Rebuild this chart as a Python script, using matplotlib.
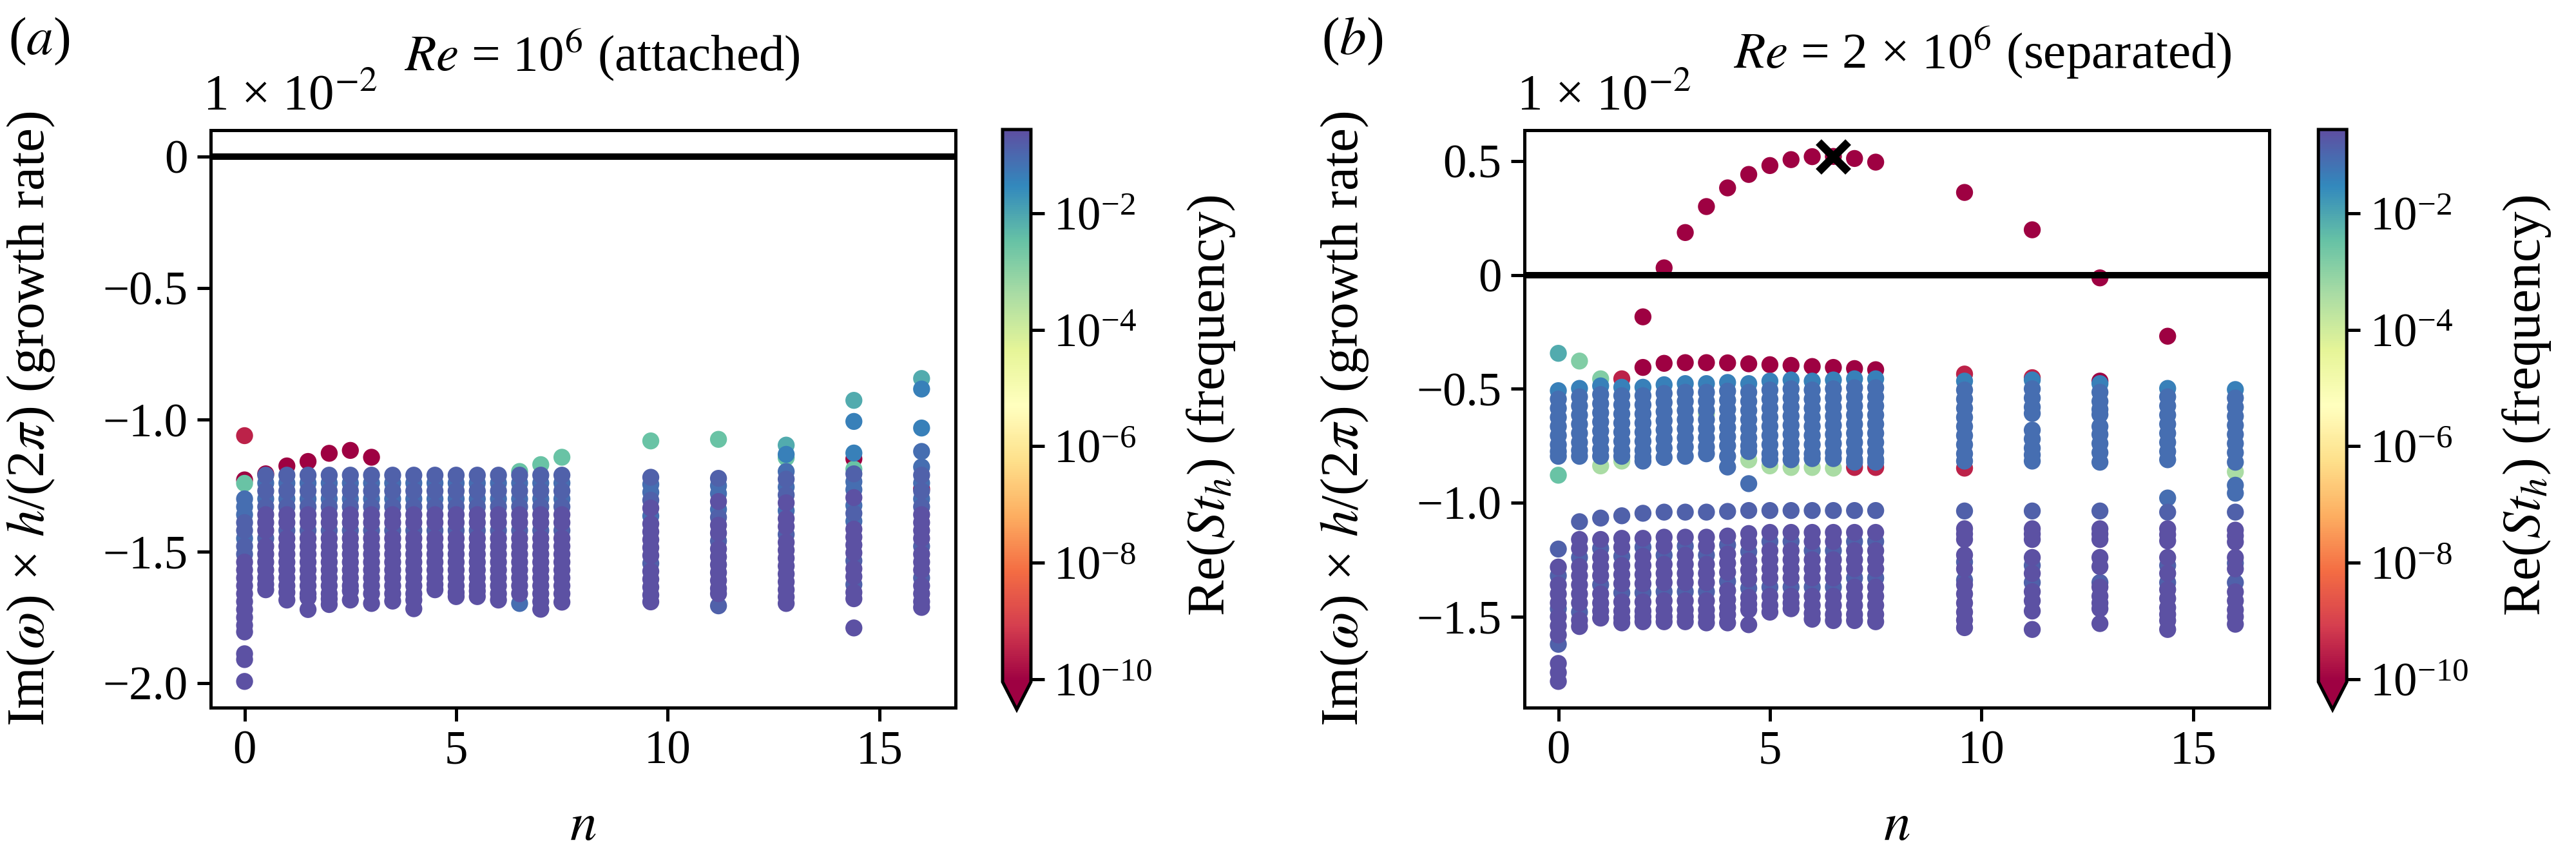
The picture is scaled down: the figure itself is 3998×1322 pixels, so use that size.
import numpy as np
import matplotlib.pyplot as plt
from matplotlib.colors import LogNorm
from matplotlib.ticker import FuncFormatter

plt.rcParams['font.family'] = ['Liberation Serif', 'DejaVu Serif']
plt.rcParams['mathtext.fontset'] = 'stix'

# spanwise wavenumbers of the computed columns (same for both cases)
n_values = [0, 0.5, 1.0, 1.5, 2.0, 2.5, 3.0, 3.5, 4.0, 4.5, 5.0, 5.5, 6.0, 6.5, 7.0, 7.5,
            9.6, 11.2, 12.8, 14.4, 16.0]

# frequency class of each eigenvalue -> Re(St_h)
freq_of_kind = {'r': 5e-11, 'R': 3e-10, 'g': 4e-4, 'u': 1.5e-3, 't': 3e-3, 'T': 8e-3,
                'b': 0.04, 'c': 0.08, 'm': 0.13, 'p': 0.25}

# (a) Re = 1e6, growth rate in units of 1e-2
a_growth = [
    [-1.06, -1.228, -1.241, -1.30, -1.33, -1.36, -1.39, -1.42, -1.45, -1.48, -1.51, -1.54, -1.57, -1.60, -1.63, -1.66, -1.69, -1.72, -1.75, -1.78, -1.805, -1.888, -1.91, -1.993],
    [-1.205, -1.21, -1.24, -1.27, -1.30, -1.33, -1.36, -1.39, -1.42, -1.45, -1.48, -1.51, -1.54, -1.57, -1.60, -1.625, -1.645],
    [-1.175, -1.21, -1.24, -1.27, -1.30, -1.33, -1.36, -1.39, -1.42, -1.45, -1.48, -1.51, -1.54, -1.57, -1.60, -1.63, -1.655, -1.684],
    [-1.158, -1.21, -1.24, -1.27, -1.30, -1.33, -1.36, -1.39, -1.42, -1.45, -1.48, -1.51, -1.54, -1.57, -1.60, -1.63, -1.66, -1.675, -1.72],
    [-1.127, -1.21, -1.24, -1.27, -1.30, -1.33, -1.36, -1.39, -1.42, -1.45, -1.48, -1.51, -1.54, -1.57, -1.60, -1.63, -1.66, -1.68, -1.701],
    [-1.116, -1.21, -1.24, -1.27, -1.30, -1.33, -1.36, -1.39, -1.42, -1.45, -1.48, -1.51, -1.54, -1.57, -1.60, -1.63, -1.649, -1.684],
    [-1.142, -1.21, -1.24, -1.27, -1.30, -1.33, -1.36, -1.39, -1.42, -1.45, -1.48, -1.51, -1.54, -1.57, -1.60, -1.63, -1.66, -1.697],
    [-1.21, -1.24, -1.27, -1.30, -1.33, -1.36, -1.39, -1.42, -1.45, -1.48, -1.51, -1.54, -1.57, -1.60, -1.63, -1.66, -1.688],
    [-1.21, -1.24, -1.27, -1.30, -1.33, -1.36, -1.39, -1.42, -1.45, -1.48, -1.51, -1.54, -1.57, -1.60, -1.63, -1.66, -1.684, -1.717],
    [-1.21, -1.24, -1.27, -1.30, -1.33, -1.36, -1.39, -1.42, -1.45, -1.48, -1.51, -1.54, -1.57, -1.60, -1.625, -1.645],
    [-1.21, -1.24, -1.27, -1.30, -1.33, -1.36, -1.39, -1.42, -1.45, -1.48, -1.51, -1.54, -1.57, -1.60, -1.63, -1.655, -1.671],
    [-1.21, -1.24, -1.27, -1.30, -1.33, -1.36, -1.39, -1.42, -1.45, -1.48, -1.51, -1.54, -1.57, -1.60, -1.63, -1.65, -1.671],
    [-1.21, -1.24, -1.27, -1.30, -1.33, -1.36, -1.39, -1.42, -1.45, -1.48, -1.51, -1.54, -1.57, -1.60, -1.63, -1.66, -1.684],
    [-1.196, -1.21, -1.24, -1.27, -1.30, -1.33, -1.36, -1.39, -1.42, -1.45, -1.48, -1.51, -1.54, -1.57, -1.60, -1.63, -1.66, -1.697],
    [-1.170, -1.21, -1.24, -1.27, -1.30, -1.33, -1.36, -1.39, -1.42, -1.45, -1.48, -1.51, -1.54, -1.57, -1.60, -1.63, -1.66, -1.69, -1.719],
    [-1.142, -1.21, -1.24, -1.27, -1.30, -1.33, -1.36, -1.39, -1.42, -1.45, -1.48, -1.51, -1.54, -1.57, -1.60, -1.63, -1.66, -1.692],
    [-1.080, -1.218, -1.245, -1.275, -1.305, -1.335, -1.365, -1.395, -1.425, -1.455, -1.485, -1.515, -1.545, -1.575, -1.605, -1.635, -1.665, -1.691],
    [-1.074, -1.222, -1.25, -1.28, -1.31, -1.34, -1.37, -1.40, -1.43, -1.46, -1.49, -1.52, -1.55, -1.58, -1.61, -1.64, -1.66, -1.706],
    [-1.096, -1.131, -1.144, -1.196, -1.225, -1.255, -1.285, -1.315, -1.345, -1.375, -1.405, -1.435, -1.465, -1.495, -1.525, -1.555, -1.585, -1.615, -1.645, -1.672, -1.697],
    [-0.926, -1.006, -1.126, -1.148, -1.187, -1.205, -1.235, -1.265, -1.295, -1.325, -1.355, -1.385, -1.415, -1.445, -1.475, -1.505, -1.535, -1.565, -1.595, -1.625, -1.655, -1.679, -1.790],
    [-0.843, -0.883, -1.031, -1.120, -1.179, -1.21, -1.24, -1.262, -1.27, -1.30, -1.33, -1.36, -1.39, -1.42, -1.45, -1.48, -1.51, -1.54, -1.57, -1.60, -1.63, -1.66, -1.69, -1.712],
]
a_kind = [
    "Rrt" "ccc" "mm" "c" "mm" "ppppp" "ppppp" "ppp",
    "r" "mcmcm" "ppp" "m" "ppppp" "pp",
    "r" "mcmcm" "ppm" "ppppp" "pppp",
    "r" "mcmcm" "ppm" "ppppp" "ppppp",
    "r" "mcmcm" "ppm" "ppppp" "ppppp",
    "r" "mcmcm" "ppm" "ppppp" "pppp",
    "r" "mcmcm" "ppm" "ppppp" "pppp",
    "mcmcm" "ppm" "ppppp" "pppp",
    "mcmcm" "ppm" "ppppp" "ppppp",
    "mcmcm" "ppm" "ppppp" "ppp",
    "mcmcm" "ppm" "ppppp" "pppp",
    "mcmcm" "ppm" "ppppp" "pppp",
    "mcmcm" "ppm" "ppppp" "pppp",
    "t" "mcmcm" "ppm" "ppppp" "ppp" "c",
    "t" "mcmcm" "ppm" "ppppp" "ppppp",
    "t" "mcmcm" "ppm" "ppppp" "pppp",
    "tmccm" "pcppp" "ppmpp" "ppp",
    "tmccp" "cmppm" "ppppp" "ppm",
    "Tbtcm" "cmpcp" "pmppp" "ppppp" "p",
    "Tbbrt" "mccpc" "mcppp" "pmppm" "ppp",
    "Tbbcc" "mcrmc" "mpppp" "mpppm" "pppp",
]

# (b) Re = 2e6, growth rate in units of 1e-2
b_growth = [
    [-0.344, -0.508, -0.545, -0.585, -0.625, -0.665, -0.705, -0.745, -0.775, -0.796, -0.879, -1.203, -1.282, -1.32, -1.36, -1.40, -1.44, -1.465, -1.50, -1.54, -1.58, -1.621, -1.705, -1.745, -1.784],
    [-0.378, -0.498, -0.535, -0.575, -0.615, -0.655, -0.695, -0.735, -0.77, -0.796, -1.083, -1.161, -1.20, -1.24, -1.28, -1.32, -1.36, -1.40, -1.44, -1.48, -1.515, -1.543],
    [-0.456, -0.487, -0.525, -0.565, -0.605, -0.645, -0.685, -0.725, -0.765, -0.796, -0.838, -1.067, -1.161, -1.20, -1.24, -1.28, -1.32, -1.36, -1.40, -1.44, -1.475, -1.506],
    [-0.456, -0.493, -0.53, -0.57, -0.61, -0.65, -0.69, -0.73, -0.77, -0.796, -0.817, -1.057, -1.156, -1.195, -1.235, -1.275, -1.315, -1.355, -1.395, -1.435, -1.475, -1.505, -1.527],
    [-0.184, -0.406, -0.493, -0.53, -0.57, -0.61, -0.65, -0.69, -0.73, -0.77, -0.80, -0.817, -1.046, -1.156, -1.195, -1.235, -1.275, -1.315, -1.355, -1.395, -1.435, -1.475, -1.50, -1.522],
    [0.031, -0.388, -0.482, -0.52, -0.56, -0.60, -0.64, -0.68, -0.72, -0.76, -0.801, -1.041, -1.151, -1.19, -1.23, -1.27, -1.31, -1.35, -1.39, -1.43, -1.47, -1.50, -1.522],
    [0.186, -0.385, -0.477, -0.515, -0.555, -0.595, -0.635, -0.675, -0.715, -0.755, -0.796, -1.041, -1.151, -1.19, -1.23, -1.27, -1.31, -1.35, -1.39, -1.43, -1.47, -1.50, -1.522],
    [0.300, -0.385, -0.477, -0.515, -0.555, -0.595, -0.61, -0.635, -0.675, -0.715, -0.755, -0.785, -1.041, -1.151, -1.19, -1.23, -1.27, -1.31, -1.35, -1.39, -1.43, -1.47, -1.50, -1.527],
    [0.382, -0.386, -0.472, -0.51, -0.55, -0.59, -0.63, -0.67, -0.71, -0.75, -0.796, -0.843, -1.038, -1.146, -1.185, -1.225, -1.265, -1.305, -1.345, -1.385, -1.425, -1.46, -1.491, -1.527],
    [0.441, -0.390, -0.477, -0.515, -0.555, -0.595, -0.635, -0.675, -0.715, -0.75, -0.775, -0.812, -0.916, -1.034, -1.135, -1.175, -1.215, -1.255, -1.295, -1.335, -1.375, -1.415, -1.445, -1.470, -1.535],
    [0.480, -0.394, -0.466, -0.505, -0.545, -0.585, -0.625, -0.665, -0.705, -0.745, -0.785, -0.811, -0.838, -1.034, -1.13, -1.17, -1.21, -1.25, -1.29, -1.33, -1.37, -1.41, -1.45, -1.48],
    [0.506, -0.397, -0.461, -0.50, -0.54, -0.58, -0.62, -0.66, -0.70, -0.74, -0.78, -0.811, -0.845, -1.034, -1.13, -1.17, -1.21, -1.25, -1.29, -1.33, -1.37, -1.41, -1.44, -1.465],
    [0.519, -0.402, -0.466, -0.505, -0.545, -0.585, -0.625, -0.665, -0.705, -0.745, -0.785, -0.806, -0.845, -1.034, -1.13, -1.17, -1.21, -1.25, -1.29, -1.33, -1.37, -1.41, -1.45, -1.485, -1.511],
    [0.520, -0.406, -0.461, -0.50, -0.54, -0.58, -0.62, -0.66, -0.70, -0.74, -0.78, -0.806, -0.848, -1.034, -1.13, -1.17, -1.21, -1.25, -1.29, -1.33, -1.37, -1.41, -1.45, -1.49, -1.517],
    [0.511, -0.411, -0.456, -0.495, -0.535, -0.575, -0.615, -0.655, -0.695, -0.735, -0.775, -0.81, -0.822, -0.845, -1.034, -1.13, -1.17, -1.21, -1.25, -1.29, -1.33, -1.37, -1.41, -1.45, -1.49, -1.517],
    [0.495, -0.416, -0.456, -0.495, -0.535, -0.575, -0.615, -0.655, -0.695, -0.735, -0.775, -0.81, -0.822, -0.845, -1.034, -1.13, -1.17, -1.21, -1.25, -1.29, -1.33, -1.37, -1.41, -1.45, -1.49, -1.522],
    [0.362, -0.435, -0.466, -0.505, -0.545, -0.585, -0.625, -0.665, -0.705, -0.745, -0.785, -0.817, -0.848, -1.036, -1.114, -1.137, -1.161, -1.229, -1.26, -1.29, -1.339, -1.36, -1.40, -1.44, -1.48, -1.515, -1.548],
    [0.198, -0.451, -0.461, -0.50, -0.54, -0.58, -0.608, -0.681, -0.72, -0.76, -0.79, -0.817, -1.036, -1.114, -1.137, -1.161, -1.24, -1.275, -1.31, -1.35, -1.39, -1.43, -1.475, -1.556],
    [-0.013, -0.466, -0.477, -0.515, -0.555, -0.59, -0.613, -0.665, -0.70, -0.74, -0.78, -0.822, -1.036, -1.114, -1.137, -1.161, -1.24, -1.28, -1.35, -1.37, -1.41, -1.44, -1.465, -1.530],
    [-0.269, -0.498, -0.535, -0.575, -0.615, -0.655, -0.695, -0.735, -0.775, -0.811, -0.979, -1.041, -1.114, -1.14, -1.167, -1.24, -1.275, -1.31, -1.35, -1.381, -1.42, -1.46, -1.49, -1.517, -1.556],
    [-0.503, -0.54, -0.58, -0.62, -0.66, -0.70, -0.74, -0.78, -0.822, -0.864, -0.923, -0.958, -1.041, -1.12, -1.145, -1.172, -1.24, -1.265, -1.29, -1.35, -1.391, -1.43, -1.47, -1.50, -1.533],
]
b_kind = [
    "Tbccc" "ccccc" "tmpmp" "ppmpp" "pmppp",
    "ubccc" "ccccc" "mppmp" "ppppm" "pp",
    "ubccc" "ccccc" "gmpmp" "ppmpp" "pp",
    "Rbccc" "ccccc" "gmppm" "pppmp" "ppp",
    "rrbcc" "ccccc" "ccmpm" "ppppm" "pppp",
    "rrbcc" "ccccc" "cmppm" "pppmp" "ppp",
    "rrbcc" "ccccc" "cmpmp" "pppmp" "ppp",
    "rrbcc" "cgccc" "ccmpp" "mpppm" "pppp",
    "rrbcc" "ccccc" "ccmpm" "pppmp" "pppp",
    "rrbcc" "ccccc" "cgcmp" "pmppp" "mpppp",
    "rrbcc" "ccccc" "ccgmp" "mpppp" "mppp",
    "rrbcc" "ccccc" "ccgmp" "mpppp" "mppp",
    "rrbcc" "ccccc" "ccgmp" "pmppp" "mpppp",
    "rrbcc" "ccccc" "ccgmp" "pmppp" "mpppp",
    "rrbcc" "ccccc" "cccRm" "pmppp" "mpppp" "p",
    "rrbcc" "ccccc" "cccRm" "pmppp" "mpppp" "p",
    "rRbcc" "ccccc" "ccRmp" "pppmp" "mpppp" "pp",
    "rRbcc" "ccccc" "ccmpp" "ppmpm" "pppp",
    "rrbcc" "ccccc" "ccmpp" "pppmp" "pppp",
    "rbccc" "ccccc" "cmppp" "pmpmp" "ppppp",
    "bcccc" "ccccg" "ccmpp" "ppmpm" "ppppp",
]

# most unstable mode marked in (b)
b_peak_n = 6.5
b_peak_growth = 0.52

norm = LogNorm(vmin=8.9e-11, vmax=0.275)


def points(growth, kinds):
    xs, ys, fs = [], [], []
    for n, g, k in zip(n_values, growth, kinds):
        assert len(g) == len(k), (n, len(g), len(k))
        xs += [n] * len(g)
        ys += list(g)
        fs += [freq_of_kind[c] for c in k]
    order = np.argsort(fs, kind='stable')
    return np.array(xs)[order], np.array(ys)[order], np.array(fs)[order]


def tick_fmt(v, pos):
    if abs(v) < 1e-9:
        return '0'
    return f'{v:.1f}'.replace('-', '\u2212')


fig = plt.figure(figsize=(3998 / 300, 1322 / 300), dpi=300)
ax_a = fig.add_axes([0.0818, 0.1694, 0.2891, 0.6778])
cax_a = fig.add_axes([0.3892, 0.1672, 0.011, 0.6808])
ax_b = fig.add_axes([0.5918, 0.1694, 0.2891, 0.6778])
cax_b = fig.add_axes([0.9000, 0.1672, 0.011, 0.6808])

panels = [(ax_a, cax_a, a_growth, a_kind, [-2.0, -1.5, -1.0, -0.5, 0.0]),
          (ax_b, cax_b, b_growth, b_kind, [-1.5, -1.0, -0.5, 0.0, 0.5])]

for ax, cax, growth, kinds, yticks in panels:
    x, y, f = points(growth, kinds)
    sc = ax.scatter(x, y, c=f, cmap='Spectral', norm=norm, s=40, linewidths=0)
    ax.axhline(0, color='k', lw=2.4, zorder=3)
    ax.set_xticks([0, 5, 10, 15])
    ax.set_yticks(yticks)
    ax.yaxis.set_major_formatter(FuncFormatter(tick_fmt))
    ax.tick_params(width=1.2, length=5, labelsize=17.5)
    for sp in ax.spines.values():
        sp.set_linewidth(1.2)
    ax.set_xlabel('$n$', fontsize=20)
    ax.set_ylabel(r'Im($\omega$) × $h$/(2$\pi$) (growth rate)', fontsize=20)
    ax.yaxis.set_label_coords(-0.207, 0.5)
    ax.xaxis.set_label_coords(0.5, -0.165)
    ax.text(-0.01, 1.037, '1 × 10$^{-2}$', transform=ax.transAxes,
            ha='left', va='baseline', fontsize=19)

    cb = fig.colorbar(sc, cax=cax, extend='min')
    cb.set_ticks([1e-10, 1e-8, 1e-6, 1e-4, 1e-2])
    cb.ax.minorticks_off()
    cb.outline.set_linewidth(1.2)
    cb.ax.tick_params(width=1.2, length=5, labelsize=17.5)
    cb.set_label(r'Re($St_h$) (frequency)', fontsize=20, labelpad=12)

ax_b.plot(b_peak_n, b_peak_growth, marker='x', color='k', ms=11, mew=3, zorder=4)

fig.text(0.0033, 0.981, '($a$)', ha='left', va='top', fontsize=20)
fig.text(0.513, 0.981, '($b$)', ha='left', va='top', fontsize=20)
fig.text(0.2336, 0.968, '$Re$ = 10$^6$ (attached)', ha='center', va='top', fontsize=19)
fig.text(0.7696, 0.971, '$Re$ = 2 × 10$^6$ (separated)', ha='center', va='top', fontsize=19)

fig.savefig('out.png', dpi=300)
